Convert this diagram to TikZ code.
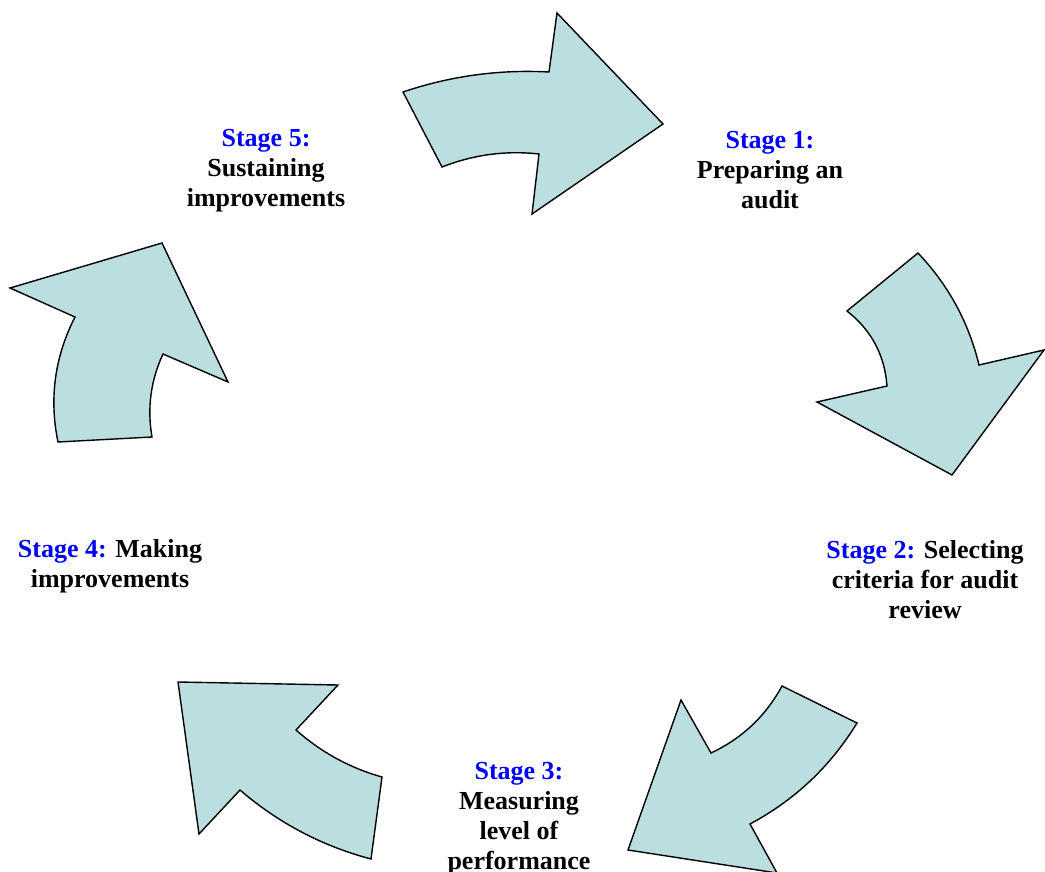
\documentclass[tikz,border=0pt]{standalone}
\usepackage{fontspec}
\setmainfont{Liberation Serif}
\usepackage{xcolor}
\usepackage{tikz}
\usetikzlibrary{positioning}
\definecolor{arrfill}{RGB}{187,222,224}
\tikzset{
  arr/.style={draw,line width=1.4pt,fill=arrfill,line join=miter},
  lbl/.style={align=center,font=\fontsize{26}{30}\selectfont\bfseries,inner sep=0pt},
}
\newcommand{\stg}[1]{{\color{blue}Stage #1:}}

\begin{document}
\begin{tikzpicture}[x=1pt,y=-1pt]
  \useasboundingbox (0,0) rectangle (1045,872);
  % curved arrows, clockwise from the top
  \draw[arr] (403,92) .. controls (450.3,76) and (499,69.3) .. (549,72) -- (557,13) -- (663,124)
    -- (532,214) -- (539,154) .. controls (505.6,150.3) and (473.3,154.7) .. (442,167) -- cycle;
  \draw[arr] (847,311) -- (918,253) .. controls (948.3,285) and (968.7,322.3) .. (979,365) -- (1044,350)
    -- (952,475) -- (817,402) -- (887,386) .. controls (884.7,355.1) and (871.4,330.1) .. (847,311) -- cycle;
  \draw[arr] (782,686) -- (857,723) .. controls (830.5,766.3) and (794.9,800) .. (750,824) -- (777,873)
    -- (628,850) -- (681,700) -- (711,753) .. controls (742,738.4) and (765.7,716.1) .. (782,686) -- cycle;
  \draw[arr] (338,685) -- (178,682) -- (199,834) -- (240,790) .. controls (278.3,823) and (322,846) .. (371,859)
    -- (382,777) .. controls (349.7,767.9) and (321.1,752.2) .. (296,730) -- cycle;
  \draw[arr] (58,442) -- (152,437) .. controls (147,408.1) and (150.7,380.5) .. (163,354) -- (228,382)
    -- (162,243) -- (10,288) -- (75,317) .. controls (54.7,356.8) and (49,398.5) .. (58,442) -- cycle;
  % stage labels
  \node[lbl] (s1) at (770,170) {\stg{1}\\Preparing an\\audit};
  \node[lbl] (s2) at (925,579.5) {\stg{2} Selecting\\criteria for audit\\review};
  \node[lbl] (s3) at (519,818.5) {\stg{3}\\Measuring\\level of\\performance};
  \node[lbl] (s4) at (110,566) {\stg{4} Making\\improvements};
  \node[lbl] (s5) at (266,171) {\stg{5}\\Sustaining\\improvements};
\end{tikzpicture}
\end{document}
